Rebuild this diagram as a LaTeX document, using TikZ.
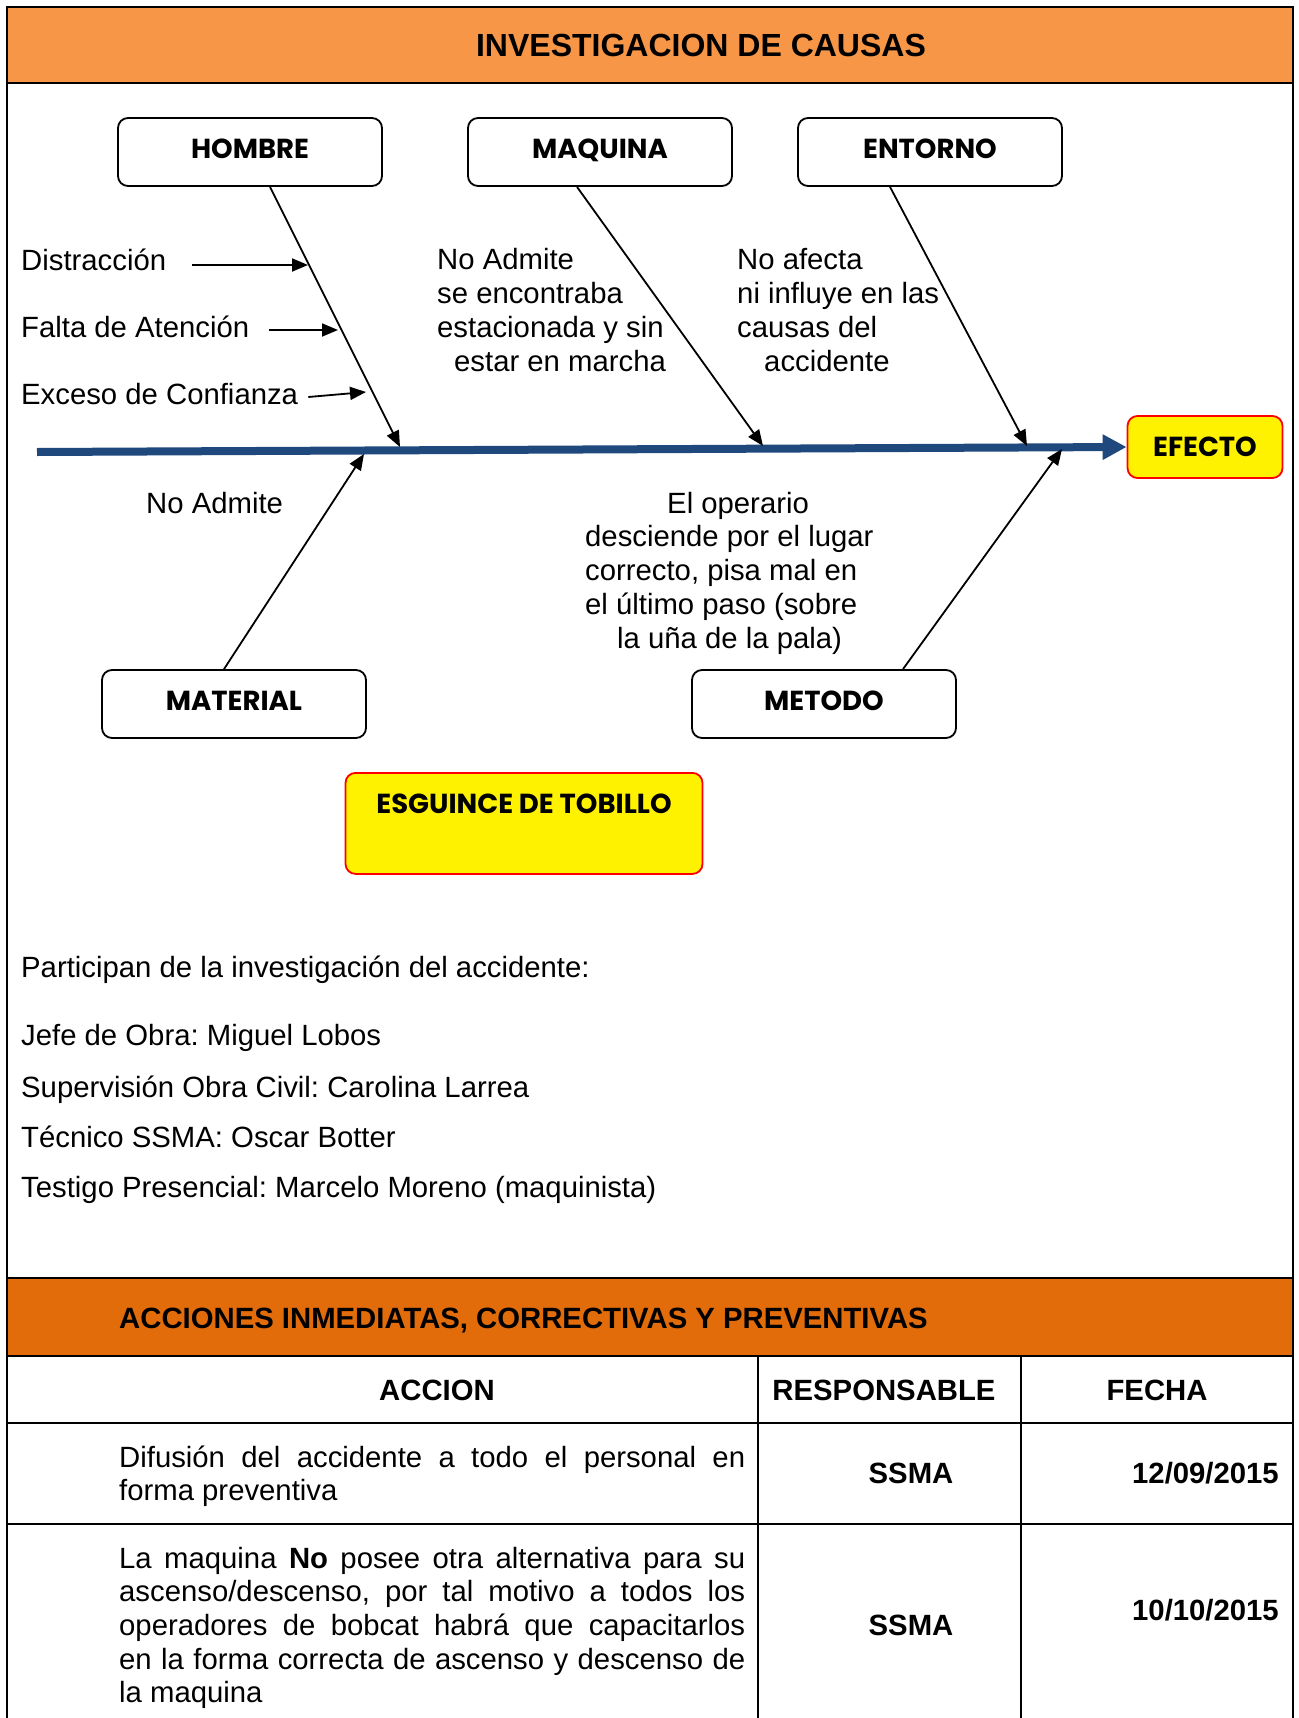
\documentclass[tikz,border=0pt]{standalone}
\usepackage{fontspec}
\setmainfont{Liberation Sans}
\newfontfamily\gotica{Poppins}
\usetikzlibrary{arrows.meta,positioning}

\definecolor{naranja}{RGB}{247,150,70}
\definecolor{naranjaosc}{RGB}{227,108,10}
\definecolor{azulespina}{RGB}{31,73,125}

\newcommand\cuerpo{\frenchspacing\fontsize{29.3}{33.7}\selectfont}
\newcommand\titulo{\fontsize{32}{37}\selectfont\bfseries}
\newcommand\rotulo{\gotica\bfseries\fontsize{27.5}{31}\selectfont}

\begin{document}
\begin{tikzpicture}[x=1pt, y=-1pt,
    causa/.style={rectangle, draw, line width=1.8pt, rounded corners=10pt, fill=white,
        minimum width=264pt, minimum height=68pt, text height=19pt, text depth=6pt, font=\rotulo},
    resaltado/.style={rectangle, draw=red, line width=1.8pt, rounded corners=10pt, fill=yellow, font=\rotulo},
    texto/.style={anchor=base west, inner sep=0pt, align=left, font=\cuerpo},
    negrita/.style={anchor=base, inner sep=0pt, font=\cuerpo\bfseries},
    parrafo/.style={anchor=base west, inner sep=0pt, text width=626pt, align=justify, font=\cuerpo},
    flecha/.style={-{Triangle[length=16pt,width=13pt]}, line width=1.8pt},
    linea/.style={line width=2.5pt}]

    \useasboundingbox (0,0) rectangle (1298,1718);
    \fill[white] (0,0) rectangle (1298,1718);

    \fill[naranja] (7,7) rectangle (1293,83);
    \fill[naranjaosc] (7,1278) rectangle (1293,1356);
    \draw[linea] (7,1718) -- (7,7) -- (1293,7) -- (1293,1718);
    \draw[linea] (7,83) -- (1293,83);
    \draw[linea] (7,1278) -- (1293,1278);
    \draw[linea] (7,1356) -- (1293,1356);
    \draw[linea] (7,1423) -- (1293,1423);
    \draw[linea] (7,1524) -- (1293,1524);
    \draw[linea] (758,1356) -- (758,1718);
    \draw[linea] (1021,1356) -- (1021,1718);

    \node[anchor=base, inner sep=0pt, font=\titulo] (titulo) at (701,57) {INVESTIGACION DE CAUSAS};

    \node[causa] (hombre) at (250,152) {HOMBRE};
    \node[causa] (maquina) at (600,152) {MAQUINA};
    \node[causa] (entorno) at (930,152) {ENTORNO};
    \node[causa] (material) at (234,704) {MATERIAL};
    \node[causa] (metodo) at (824,704) {METODO};
    \node[resaltado, minimum width=155pt, minimum height=62pt] (efecto) at (1205,447) {EFECTO};
    \node[resaltado, minimum width=357pt, minimum height=101pt, anchor=north,
        inner ysep=21pt, text height=20pt, text depth=39pt] (esguince) at (524,772) {ESGUINCE DE TOBILLO};

    \coordinate (cola) at (37,452);
    \draw[azulespina, line width=8pt, -{Triangle[length=24pt,width=24pt]}] (cola) -- (efecto.west);

    \coordinate (pHombre) at (400,447);
    \coordinate (pMaquina) at (763,446);
    \coordinate (pEntorno) at (1027,446);
    \coordinate (pMaterial) at (364,454);
    \coordinate (pMetodo) at (1062,449);
    \draw[flecha] ([xshift=20pt]hombre.south) -- (pHombre);
    \draw[flecha] ([xshift=-23pt]maquina.south) -- (pMaquina);
    \draw[flecha] ([xshift=-40pt]entorno.south) -- (pEntorno);
    \draw[flecha] ([xshift=-10pt]material.north) -- (pMaterial);
    \draw[flecha] ([xshift=79pt]metodo.north) -- (pMetodo);

    \node[texto] (distraccion) at (21,270) {Distracción};
    \node[texto] (falta) at (21,337) {Falta de Atención};
    \node[texto] (exceso) at (21,404) {Exceso de Confianza};
    \coordinate (pDistraccion) at (308,265);
    \coordinate (pFalta) at (338,330);
    \coordinate (pExceso) at (366,392);
    \draw[flecha] ([xshift=26pt,yshift=5pt]distraccion.base east) -- (pDistraccion);
    \draw[flecha] ([xshift=20pt,yshift=7pt]falta.base east) -- (pFalta);
    \draw[flecha] ([xshift=10pt,yshift=7pt]exceso.base east) -- (pExceso);

    \node[texto] (noadmite) at (437,371) {No Admite\\se encontraba\\estacionada y sin\\\hspace*{17pt}estar en marcha};
    \node[texto] (noafecta) at (737,371) {No afecta\\ni influye en las\\causas del\\\hspace*{27pt}accidente};
    \node[texto] (noadmiteB) at (146,513) {No Admite};
    \node[texto] (operario) at (585,648) {\hspace*{82pt}El operario\\desciende por el lugar\\correcto, pisa mal en\\el último paso (sobre\\\hspace*{32pt}la uña de la pala)};

    \node[texto] (participan) at (21,977) {Participan de la investigación del accidente:};
    \node[texto] (jefe) at (21,1045) {Jefe de Obra: Miguel Lobos};
    \node[texto] (supervision) at (21,1097) {Supervisión Obra Civil: Carolina Larrea};
    \node[texto] (tecnico) at (21,1147) {Técnico SSMA: Oscar Botter};
    \node[texto] (testigo) at (21,1197) {Testigo Presencial: Marcelo Moreno (maquinista)};

    \node[texto, font=\cuerpo\bfseries] (acciones) at (119,1328) {ACCIONES INMEDIATAS, CORRECTIVAS Y PREVENTIVAS};
    \node[negrita] (accion) at (437,1400) {ACCION};
    \node[negrita] (responsable) at (884,1400) {RESPONSABLE};
    \node[negrita] (fecha) at (1157,1400) {FECHA};

    \node[parrafo] (difusion) at (119,1467) {Difusión del accidente a todo el personal en\linebreak forma preventiva};
    \node[negrita] (ssmaA) at (911,1483) {SSMA};
    \node[negrita, anchor=base east] (fechaA) at (1279,1483) {12/09/2015};

    \node[parrafo] (alternativa) at (119,1568) {La maquina \textbf{No} posee otra alternativa para su\linebreak ascenso/descenso, por tal motivo a todos los\linebreak operadores de bobcat habrá que capacitarlos\linebreak en la forma correcta de ascenso y descenso de\linebreak la maquina};
    \node[negrita] (ssmaB) at (911,1635) {SSMA};
    \node[negrita, anchor=base east] (fechaB) at (1279,1620) {10/10/2015};
\end{tikzpicture}
\end{document}
